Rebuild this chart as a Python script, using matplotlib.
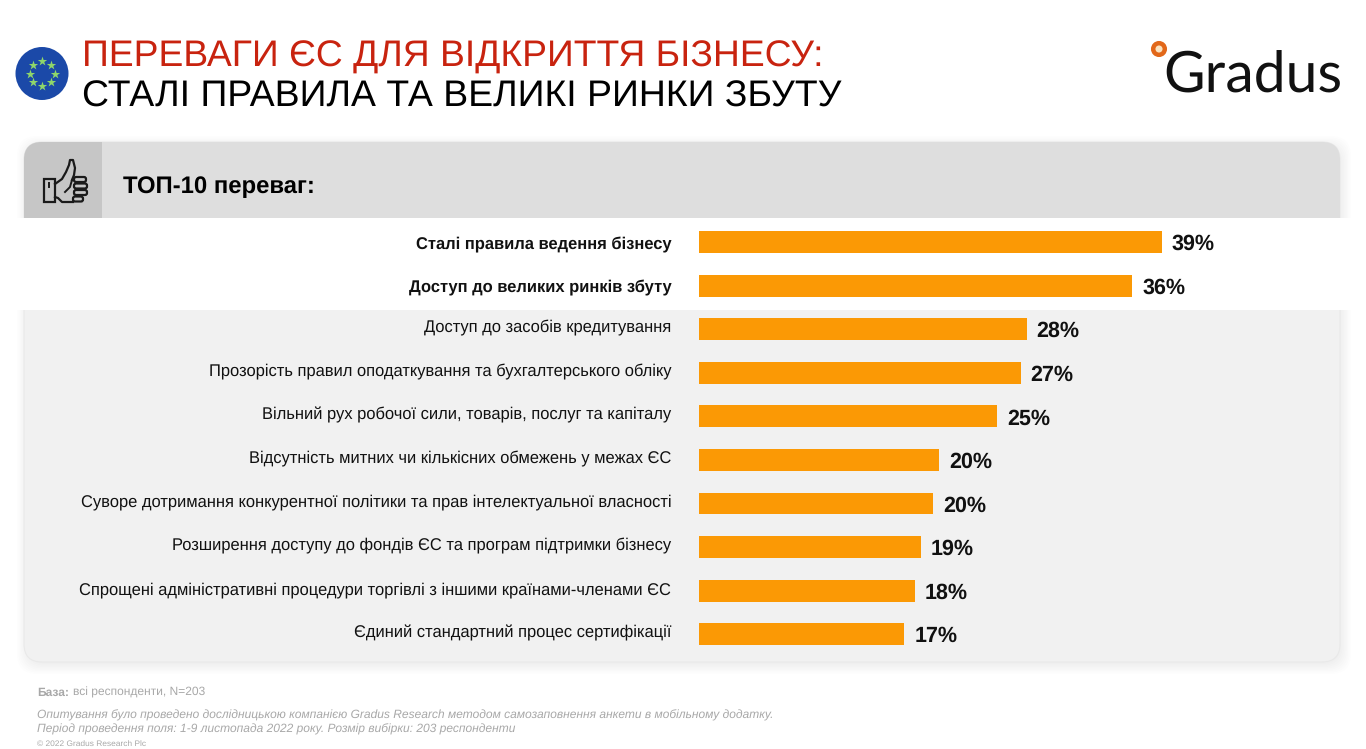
import matplotlib
matplotlib.use('Agg')
import matplotlib.pyplot as plt
from matplotlib.patches import Circle, FancyBboxPatch, Rectangle
from matplotlib.transforms import ScaledTranslation
import numpy as np

plt.rcParams['font.family'] = ['Liberation Sans', 'DejaVu Sans']
plt.rcParams['text.hinting'] = 'none'

# Дані з графіка
categories = [
    'Сталі правила ведення бізнесу',
    'Доступ до великих ринків збуту',
    'Доступ до засобів кредитування',
    'Прозорість правил оподаткування та бухгалтерського обліку',
    'Вільний рух робочої сили, товарів, послуг та капіталу',
    'Відсутність митних чи кількісних обмежень у межах ЄС',
    'Суворе дотримання конкурентної політики та прав інтелектуальної власності',
    'Розширення доступу до фондів ЄС та програм підтримки бізнесу',
    'Спрощені адміністративні процедури торгівлі з іншими країнами-членами ЄС',
    'Єдиний стандартний процес сертифікації',
]
values = [39.0, 36.5, 27.6, 27.1, 25.1, 20.2, 19.7, 18.7, 18.2, 17.3]
value_labels = ['39%', '36%', '28%', '27%', '25%', '20%', '20%', '19%', '18%', '17%']
n_bold = 2

W, H = 1366, 749
fig = plt.figure(figsize=(W / 100, H / 100), dpi=100, facecolor='white')

# фон у пікселях
bg = fig.add_axes([0, 0, 1, 1])
bg.set_xlim(0, W)
bg.set_ylim(H, 0)
bg.axis('off')

# м'яка тінь панелі, зсунута вправо-вниз
for i in range(8):
    grow = 11 - i * 1.4
    bg.add_patch(FancyBboxPatch((24 - grow + 4, 142 - grow + 5), 1316 + 2 * grow - 4, 520 + 2 * grow - 4,
                                boxstyle='round,pad=0,rounding_size=20', fc='black', ec='none',
                                alpha=0.007, zorder=1))

panel = FancyBboxPatch((24, 142), 1316, 520, boxstyle='round,pad=0,rounding_size=18',
                       fc='#f1f1f1', ec='#e9e9e9', lw=0.8, zorder=2)
bg.add_patch(panel)
header = Rectangle((24, 142), 1316, 76, fc='#dedede', ec='none', zorder=3)
bg.add_patch(header)
header.set_clip_path(panel)
icon_box = Rectangle((24, 142), 78, 76, fc='#c6c6c6', ec='none', zorder=4)
bg.add_patch(icon_box)
icon_box.set_clip_path(panel)
bg.add_patch(Rectangle((0, 218), 1352, 92, fc='white', ec='none', zorder=5))

# заголовок
bg.text(82, 57, 'ПЕРЕВАГИ ЄС ДЛЯ ВІДКРИТТЯ БІЗНЕСУ:', color='#c8230f', fontsize=26.85,
        va='center', ha='left', zorder=6)
bg.text(82, 97, 'СТАЛІ ПРАВИЛА ТА ВЕЛИКІ РИНКИ ЗБУТУ', color='black', fontsize=26.9,
        va='center', ha='left', zorder=6)
bg.text(123, 187, 'ТОП-10 переваг:', color='black', fontsize=17.2, fontweight='bold',
        va='center', ha='left', zorder=6)

# прапор ЄС
bg.add_patch(Circle((42, 73.5), 26.5, fc='#1b49a8', ec='none', zorder=6))
angles = np.radians(np.arange(0, 360, 45))
bg.scatter(42 + 12.5 * np.cos(angles), 73.5 + 12.5 * np.sin(angles), marker='*', s=50,
           c='#8fd66a', linewidths=0, zorder=7)

# іконка "палець вгору"
ink = '#1a1a1a'
ic = dict(fc='none', ec=ink, lw=1.6, zorder=6)
bg.add_patch(Rectangle((44, 179), 11, 23, **ic))
bg.plot([49, 49], [183, 187], color=ink, lw=1.4, zorder=6)
bg.plot([55, 62, 66, 69, 70, 73, 75, 74, 72], [184, 179, 172, 165, 160, 160, 168, 175, 180],
        color=ink, lw=1.6, zorder=6)
bg.plot([72, 70, 65], [180, 187, 192], color=ink, lw=1.4, zorder=6)
bg.plot([55, 58, 62, 73], [197, 198, 202, 202], color=ink, lw=1.6, zorder=6)
for yy, xx, ww in zip([177, 183.5, 190, 196.5], [74, 74, 74, 73], [12, 13, 13, 10]):
    bg.add_patch(FancyBboxPatch((xx, yy), ww, 5, boxstyle='round,pad=0,rounding_size=2', **ic))

# логотип
bg.text(1163, 93, 'Gradus', color='#111111', fontsize=41, family='Lato', ha='left', va='baseline', zorder=6)
bg.add_patch(Circle((1159, 49), 5.8, fc='#fbe3c0', ec='#e2681a', lw=3.2, zorder=6))

# підвал
grey = '#a8a8a8'
bg.text(37, 696, 'База:', color=grey, fontsize=8.63, fontweight='bold', va='baseline', zorder=6)
bg.text(73, 696, 'всі респонденти, N=203', color=grey, fontsize=8.63, va='baseline', zorder=6)
bg.text(37, 715, 'Опитування було проведено дослідницькою компанією Gradus Research методом '
        'самозаповнення анкети в мобільному додатку.', color=grey, fontsize=8.63, style='italic',
        va='center', zorder=6)
bg.text(37, 729, 'Період проведення поля: 1-9 листопада 2022 року. Розмір вибірки: 203 респонденти',
        color=grey, fontsize=8.63, style='italic', va='center', zorder=6)
bg.text(37, 748, '© 2022 Gradus Research Plc', color=grey, fontsize=6, va='bottom', zorder=6)

# стовпчики: 0% на 699 px, 11.87 px на 1%
left, right, top, bottom = 699, 1340, 220.3, 656
ax = fig.add_axes([left / W, 1 - bottom / H, (right - left) / W, (bottom - top) / H])
ax.patch.set_alpha(0)
ax.set_zorder(2)
y = np.arange(len(categories))
ax.barh(y, values, height=0.5, color='#fb9905')
ax.set_xlim(0, (right - left) / 11.87)
ax.set_ylim(len(categories) - 0.5, -0.5)
ax.set_xticks([])
ax.set_yticks(y, categories)
ax.tick_params(axis='y', length=0, pad=20, labelsize=11.93, labelcolor='#111111')
# підписи у звичайних рядках трохи вище центру стовпчика
for i, lab in enumerate(ax.get_yticklabels()):
    if i < n_bold:
        lab.set_fontweight('bold')
        lab.set_transform(lab.get_transform() + ScaledTranslation(0, -0.5 / 72, fig.dpi_scale_trans))
    else:
        lab.set_transform(lab.get_transform() + ScaledTranslation(0, 2 / 72, fig.dpi_scale_trans))
for s in ax.spines.values():
    s.set_visible(False)
for yi, v, lab in zip(y, values, value_labels):
    ax.annotate(lab, (v, yi), xytext=(7.2, -1.7), textcoords='offset points', va='center', ha='left',
                fontsize=15.5, fontweight='bold', color='#111111')

fig.savefig('out.png', dpi=100)
